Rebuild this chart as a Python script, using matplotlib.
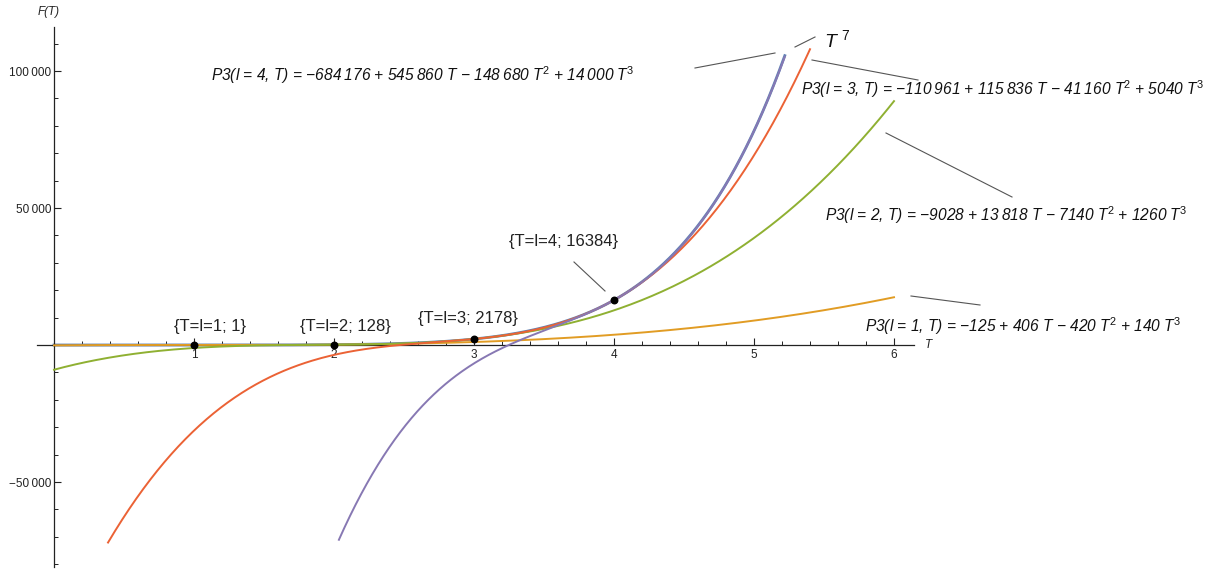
import numpy as np
import matplotlib
matplotlib.use("Agg")
import matplotlib.pyplot as plt
from matplotlib.ticker import MultipleLocator, FixedLocator, FixedFormatter

plt.rcParams['font.family'] = ['Liberation Sans', 'DejaVu Sans']
plt.rcParams['mathtext.fontset'] = 'custom'
plt.rcParams['mathtext.rm'] = 'Liberation Sans'
plt.rcParams['mathtext.it'] = 'Liberation Sans:italic'
plt.rcParams['mathtext.default'] = 'it'

# ---- data ----
# polynomial coefficients c0 + c1 T + c2 T^2 + c3 T^3
coef_l1 = [-125, 406, -420, 140]
coef_l2 = [-9028, 13818, -7140, 1260]
coef_l3 = [-110961, 115836, -41160, 5040]
coef_l4 = [-684176, 545860, -148680, 14000]
range_l1 = [0.0, 6.0]
range_l2 = [0.0, 6.0]
range_l3 = [0.386, 5.4]
range_l4 = [2.035, 5.22]
range_t7 = [0.0, 5.22]
power_t7 = 7

point_T = [1, 2, 3, 4]
point_F = [1, 128, 2178, 16384]
point_labels = ["{T=l=1; 1}", "{T=l=2; 128}", "{T=l=3; 2178}", "{T=l=4; 16384}"]

ytick_major = [-50000, 50000, 100000]
ytick_labels = ["\u221250\u2009000", "50\u2009000", "100\u2009000"]
xtick_major = [1, 2, 3, 4, 5, 6]
xtick_labels = ["1", "2", "3", "4", "5", "6"]

c_blue = "#5E81B5"
c_orange = "#E19C24"
c_green = "#8FB032"
c_red = "#EB6235"
c_purple = "#8778B3"

W, H = 1215, 571
fig = plt.figure(figsize=(W / 100, H / 100), dpi=100)

# pixel mapping: T=0 -> x=54, 140 px/unit; F=0 -> y=345, 137 px / 50000
xl, xr = -0.12, 6.14
yb, yt = -81000, 116000
px_x0 = 54 + xl * 140
px_x1 = 54 + xr * 140
px_yt = 345 - yt * 137 / 50000
px_yb = 345 - yb * 137 / 50000
ax = fig.add_axes([px_x0 / W, (H - px_yb) / H, (px_x1 - px_x0) / W, (px_yb - px_yt) / H])
ax.set_xlim(xl, xr)
ax.set_ylim(yb, yt)

def poly(c, T):
    return c[0] + c[1] * T + c[2] * T ** 2 + c[3] * T ** 3

def px2d(px, py):
    return ((px - 54) / 140, (345 - py) * 50000 / 137)

lw = 1.4
T = np.linspace(range_t7[0], range_t7[1], 400)
ax.plot(T, T ** power_t7, color=c_blue, lw=lw + 0.6, zorder=2)
for coef, rng, col in [(coef_l1, range_l1, c_orange), (coef_l2, range_l2, c_green),
                       (coef_l3, range_l3, c_red), (coef_l4, range_l4, c_purple)]:
    T = np.linspace(rng[0], rng[1], 400)
    ax.plot(T, poly(coef, T), color=col, lw=lw, zorder=3)

ax.scatter(point_T, point_F, s=22, color='black', zorder=5)

# axes styling (Mathematica-like)
for s in ['top', 'right']:
    ax.spines[s].set_visible(False)
ax.spines['left'].set_position(('data', 0))
ax.spines['bottom'].set_position(('data', 0))
for s in ['left', 'bottom']:
    ax.spines[s].set_color('#222222')
    ax.spines[s].set_linewidth(0.9)
ax.xaxis.set_major_locator(FixedLocator(xtick_major))
ax.xaxis.set_major_formatter(FixedFormatter(xtick_labels))
ax.xaxis.set_minor_locator(MultipleLocator(0.2))
ax.yaxis.set_major_locator(FixedLocator(ytick_major))
ax.yaxis.set_major_formatter(FixedFormatter(ytick_labels))
ax.yaxis.set_minor_locator(MultipleLocator(10000))
ax.tick_params(axis='both', which='both', direction='in', color='#222222', labelsize=8.5, labelcolor='#222222')
ax.tick_params(axis='both', which='major', length=5, width=0.8)
ax.tick_params(axis='both', which='minor', length=3, width=0.7)
ax.tick_params(axis='x', pad=3)
ax.tick_params(axis='y', pad=2)

# axis labels
fig.text(38 / W, 1 - 12 / H, "F(T)", fontsize=8.5, fontstyle='italic', ha='left', va='center', color='#222222')
ax.annotate("T", xy=(6.14, 0), xytext=(8, 0), textcoords='offset points', fontstyle='italic',
            fontsize=8.5, ha='left', va='center', color='#222222', annotation_clip=False)

# point labels
pl_px = [(210, 326), (345, 326), (468, 318), (564, 241)]
for (px, py), t in zip(pl_px, point_labels):
    x, y = px2d(px, py)
    ax.text(x, y, t, fontsize=12, ha='center', va='center', color='#222222', clip_on=False)
x0, y0 = px2d(574, 262)
x1, y1 = px2d(605, 291)
ax.plot([x0, x1], [y0, y1], color='#555555', lw=0.8)

# formula labels
fs = 11.2
ts = "\u2009"
lab4 = f"P3(l = 4, T) = \u2212684{ts}176 + 545{ts}860 T \u2212 148{ts}680 T$^2$ + 14{ts}000 T$^3$"
lab3 = f"P3(l = 3, T) = \u2212110{ts}961 + 115{ts}836 T \u2212 41{ts}160 T$^2$ + 5040 T$^3$"
lab2 = f"P3(l = 2, T) = \u22129028 + 13{ts}818 T \u2212 7140 T$^2$ + 1260 T$^3$"
lab1 = f"P3(l = 1, T) = \u2212125 + 406 T \u2212 420 T$^2$ + 140 T$^3$"
labT = "T $^7$"

for lab, (px, py) in [(lab4, (211, 75)), (lab3, (801, 89)), (lab2, (825, 215)), (lab1, (865, 326))]:
    x, y = px2d(px, py)
    ax.text(x, y, lab, fontsize=fs, fontstyle='italic', ha='left', va='center', color='#111111', clip_on=False)
x, y = px2d(824, 40)
ax.text(x, y, labT, fontsize=14, fontstyle='italic', ha='left', va='center', color='#111111', clip_on=False)

# callout lines
callouts = [((795, 47), (815, 37)), ((695, 68), (775, 53)), ((812, 60), (918, 80)),
            ((886, 133), (1012, 197)), ((911, 296), (980, 305))]
for (a, b) in callouts:
    x0, y0 = px2d(*a)
    x1, y1 = px2d(*b)
    ax.plot([x0, x1], [y0, y1], color='#555555', lw=0.8, clip_on=False)

fig.savefig("out.png", dpi=100)
